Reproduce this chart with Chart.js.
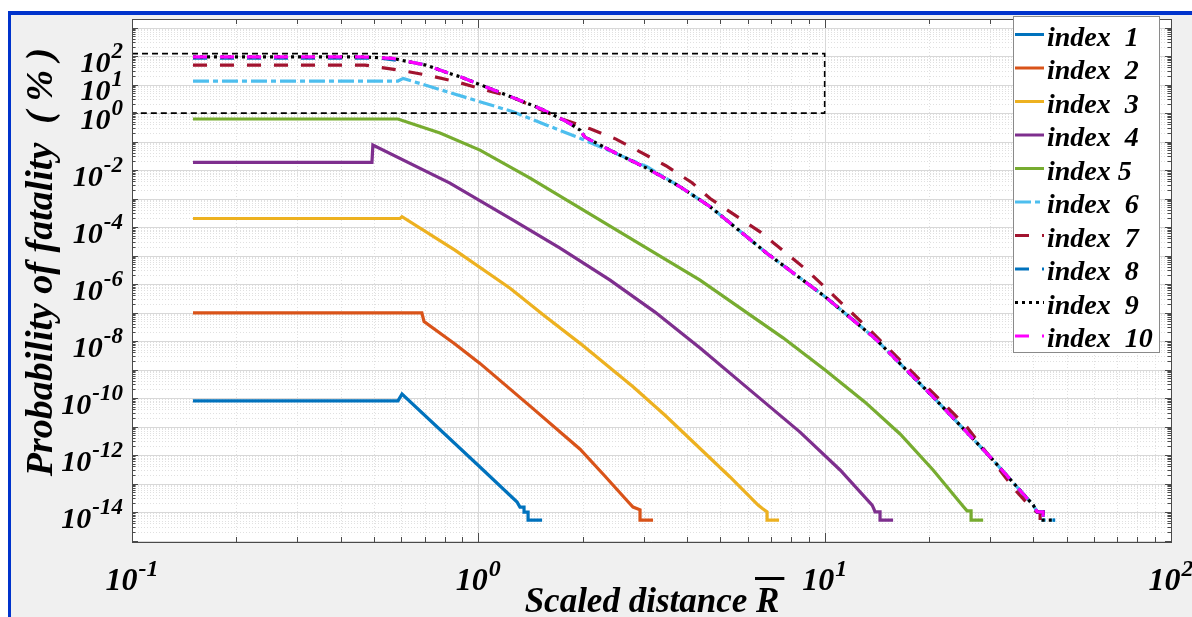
<!DOCTYPE html>
<html>
<head>
<meta charset="utf-8">
<script src="https://cdn.jsdelivr.net/npm/chart.js@4.4.1/dist/chart.umd.min.js"></script>
<style>
  html, body { margin: 0; padding: 0; background: #fff; overflow: hidden; }
  #frame {
    position: absolute; left: 8px; top: 11px; width: 1200px; height: 620px;
    background: #f0f0f0; border-left: 3px solid #0033cc; border-top: 4px solid #0033cc;
  }
  #chartCanvas { position: absolute; left: 0; top: 0; }
</style>
</head>
<body>
<div id="frame"></div>
<canvas id="chartCanvas" width="1192" height="617"></canvas>
<script>
// scaled distance (x) and probability of fatality in % (y)
const dist1 = [0.15, 0.586, 0.602, 1.011, 1.294, 1.319, 1.355, 1.355, 1.392, 1.392, 1.528];
const prob1 = [8.0e-11, 8.0e-11, 1.38e-10, 3.8e-13, 2.24e-14, 1.5e-14, 1.5e-14, 1.0e-14, 1.0e-14, 5.2e-15, 5.2e-15];

const dist2 = [0.15, 0.687, 0.697, 0.856, 1.011, 1.411, 1.967, 2.322, 2.706, 2.797, 2.93, 2.93, 3.195];
const prob2 = [9.8e-8, 9.8e-8, 4.8e-8, 7.9e-9, 1.65e-9, 5.2e-11, 1.6e-12, 1.8e-13, 2.3e-14, 1.5e-14, 1.2e-14, 5.2e-15, 5.2e-15];

const dist3 = [0.15, 0.594, 0.602, 0.856, 1.235, 1.558, 1.967, 2.797, 3.46, 4.367, 5.33, 6.423, 6.596, 6.818, 6.818, 7.385];
const prob3 = [2.0e-4, 2.0e-4, 2.3e-4, 1.56e-5, 7.1e-7, 7.5e-8, 8.3e-9, 2.5e-10, 2.5e-11, 1.7e-12, 1.7e-13, 1.76e-14, 1.35e-14, 1.02e-14, 5.2e-15, 5.2e-15];

const dist4 = [0.15, 0.493, 0.496, 0.828, 1.26, 1.722, 2.401, 3.237, 4.367, 6.09, 8.49, 11.08, 13.71, 13.85, 13.98, 14.45, 14.45, 15.76];
const prob4 = [0.0186, 0.0186, 0.0754, 3.5e-3, 1.76e-4, 1.83e-5, 1.38e-6, 1.04e-7, 5.7e-9, 1.9e-10, 6.4e-12, 3.0e-13, 1.76e-14, 1.35e-14, 1.02e-14, 1.02e-14, 5.2e-15, 5.2e-15];

const dist5 = [0.15, 0.586, 0.775, 1.011, 1.411, 1.967, 2.93, 4.367, 7.584, 10.03, 13.08, 16.51, 20.56, 25.10, 25.77, 26.47, 26.47, 28.68];
const prob5 = [0.62, 0.62, 0.199, 0.0503, 5.2e-3, 4.6e-4, 2.5e-5, 1.38e-6, 1.3e-8, 9.6e-10, 7.2e-11, 5.5e-12, 3.0e-13, 1.6e-14, 1.1e-14, 1.1e-14, 5.2e-15, 5.2e-15];

const dist6 = [0.15, 0.586, 0.607, 0.812, 1.26, 1.967, 3.07, 3.824, 4.669, 6.818, 10.03, 13.98, 20.56, 30.04, 39.99, 41.06, 42.73, 42.73, 46.29];
const prob6 = [13.3, 13.3, 16.5, 5.6, 1.11, 0.13, 0.0131, 2.6e-3, 5.2e-4, 1.19e-5, 3.6e-7, 1.24e-8, 1.1e-10, 8.7e-13, 1.76e-14, 1.02e-14, 1.02e-14, 5.2e-15, 5.2e-15];

const dist7 = [0.15, 0.471, 0.590, 0.711, 0.857, 1.025, 1.243, 1.745, 2.102, 2.498, 2.95, 3.48, 4.14, 4.67, 6.51, 8.88, 11.58, 13.52, 17.27, 25.72, 35.5, 40.0, 41.06, 41.9, 41.9, 43.3];
const prob7 = [48.3, 48.3, 32.3, 21.5, 12.9, 6.95, 3.73, 0.616, 0.281, 0.122, 0.0418, 0.0142, 3.6e-3, 1.0e-3, 6.8e-5, 3.1e-6, 1.44e-7, 2.4e-8, 1.25e-9, 9.8e-12, 5.9e-14, 1.2e-14, 1.0e-14, 1.0e-14, 5.2e-15, 5.2e-15];

const dist8 = [0.15, 0.52, 0.627, 0.706, 0.812, 0.891, 0.991, 1.117, 1.276, 1.507, 1.804, 1.967, 2.03, 2.449, 3.07, 3.824, 4.669, 6.818, 10.03, 13.98, 20.56, 30.04, 39.99, 41.06, 42.73, 42.73, 46.29];
const prob8 = [85, 85, 64, 48.3, 26.4, 18.3, 11.0, 6.2, 3.28, 1.46, 0.495, 0.253, 0.144, 0.0439, 0.0115, 2.6e-3, 5.2e-4, 1.19e-5, 3.6e-7, 1.24e-8, 1.1e-10, 8.7e-13, 1.76e-14, 1.02e-14, 1.02e-14, 5.2e-15, 5.2e-15];

const dist9 = [0.15, 0.455, 0.567, 0.627, 0.706, 0.812, 0.891, 0.991, 1.117, 1.276, 1.507, 1.804, 1.967, 2.03, 2.449, 3.07, 3.824, 4.669, 6.818, 10.03, 13.98, 20.56, 30.04, 39.99, 41.06, 42.73, 42.73, 46.29];
const prob9 = [94.5, 94.5, 83, 64, 48.3, 26.4, 18.3, 11.0, 6.2, 3.28, 1.46, 0.495, 0.253, 0.144, 0.0439, 0.0115, 2.6e-3, 5.2e-4, 1.19e-5, 3.6e-7, 1.24e-8, 1.1e-10, 8.7e-13, 1.76e-14, 1.02e-14, 1.02e-14, 5.2e-15, 5.2e-15];

const dist10 = [0.15, 0.455, 0.567, 0.627, 0.706, 0.812, 0.891, 0.991, 1.117, 1.276, 1.507, 1.804, 1.967, 2.03, 2.449, 3.07, 3.824, 4.669, 6.818, 10.03, 13.98, 20.56, 30.04, 39.99, 41.06, 42.73, 42.73, 43.3];
const prob10 = [94.5, 94.5, 83, 64, 48.3, 26.4, 18.3, 11.0, 6.2, 3.28, 1.46, 0.495, 0.253, 0.144, 0.0439, 0.0115, 2.6e-3, 5.2e-4, 1.19e-5, 3.6e-7, 1.24e-8, 1.1e-10, 8.7e-13, 1.76e-14, 1.02e-14, 1.02e-14, 5.2e-15, 5.2e-15];

// dashed zoom box
const boxDist = [0.1, 10, 10, 0.1];
const boxProb = [122, 122, 1, 1];

const seriesNames = ["index  1", "index  2", "index  3", "index  4", "index 5",
  "index  6", "index  7", "index  8", "index  9", "index  10"];
const xTickExps = ["-1", "0", "1", "2"];
const yTickExps = ["2", "1", "0", "-2", "-4", "-6", "-8", "-10", "-12", "-14"];

const allDist = [dist1, dist2, dist3, dist4, dist5, dist6, dist7, dist8, dist9, dist10];
const allProb = [prob1, prob2, prob3, prob4, prob5, prob6, prob7, prob8, prob9, prob10];

const colors = ["#0072BD", "#D95319", "#EDB120", "#7E2F8E", "#77AC30",
  "#4DBEEE", "#A2142F", "#0072BD", "#000000", "#FF00FF"];
const dashes = [[], [], [], [], [], [16, 4, 5, 4], [14, 13], [14, 13], [3, 4], [14, 13]];

const pts = (xs, ys) => xs.map((x, i) => ({ x, y: ys[i] }));

const datasets = allDist.map((d, i) => ({
  label: seriesNames[i],
  data: pts(d, allProb[i]),
  borderColor: colors[i],
  borderDash: dashes[i],
  borderWidth: 3.2,
  order: 10 - i,
}));
datasets.push({
  label: "box",
  data: pts(boxDist, boxProb),
  borderColor: "#000",
  borderDash: [6, 4],
  borderWidth: 1.6,
  order: 0,
});

const serif = '"Liberation Serif", "Times New Roman", serif';

function logValues(min, max) {
  const out = [];
  for (let k = Math.floor(Math.log10(min)); k <= Math.ceil(Math.log10(max)); k++) {
    for (let m = 1; m <= 9; m++) {
      const v = m * Math.pow(10, k);
      if (v >= min * 0.999 && v <= max * 1.001) out.push({ v, major: m === 1 });
    }
  }
  return out;
}

function powerLabel(ctx, exp, x, yBase, yExp, fBase, fExp, align) {
  ctx.font = fBase;
  const wb = ctx.measureText("10").width;
  ctx.font = fExp;
  const we = ctx.measureText(exp).width;
  const left = align === "right" ? x - wb - we - 1 : x - (wb + we + 1) / 2;
  ctx.textAlign = "left";
  ctx.textBaseline = "alphabetic";
  ctx.font = fBase;
  ctx.fillText("10", left, yBase);
  ctx.font = fExp;
  ctx.fillText(exp, left + wb + 1, yExp);
}

const matlabAxes = {
  id: "matlabAxes",
  beforeDatasetsDraw(chart) {
    const { ctx, chartArea: a, scales } = chart;
    ctx.save();
    ctx.fillStyle = "#fff";
    ctx.fillRect(a.left, a.top, a.right - a.left, a.bottom - a.top);
    ctx.lineWidth = 1;
    const xv = logValues(scales.x.min, scales.x.max);
    const yv = logValues(scales.y.min, scales.y.max);
    // minor grid first, dotted
    ctx.strokeStyle = "#e0e0e0";
    ctx.setLineDash([1, 2]);
    ctx.beginPath();
    xv.filter((t) => !t.major).forEach((t) => {
      const p = Math.round(scales.x.getPixelForValue(t.v)) + 0.5;
      ctx.moveTo(p, a.top); ctx.lineTo(p, a.bottom);
    });
    yv.filter((t) => !t.major).forEach((t) => {
      const p = Math.round(scales.y.getPixelForValue(t.v)) + 0.5;
      ctx.moveTo(a.left, p); ctx.lineTo(a.right, p);
    });
    ctx.stroke();
    ctx.setLineDash([]);
    ctx.strokeStyle = "#d8d8d8";
    ctx.beginPath();
    xv.filter((t) => t.major).forEach((t) => {
      const p = Math.round(scales.x.getPixelForValue(t.v)) + 0.5;
      ctx.moveTo(p, a.top); ctx.lineTo(p, a.bottom);
    });
    yv.filter((t) => t.major).forEach((t) => {
      const p = Math.round(scales.y.getPixelForValue(t.v)) + 0.5;
      ctx.moveTo(a.left, p); ctx.lineTo(a.right, p);
    });
    ctx.stroke();
    ctx.restore();
  },
  afterDatasetsDraw(chart) {
    const { ctx, chartArea: a, scales } = chart;
    ctx.save();
    // box and inward ticks
    ctx.strokeStyle = "#4a4a4a";
    ctx.lineWidth = 1;
    ctx.beginPath();
    logValues(scales.x.min, scales.x.max).forEach((t) => {
      const p = Math.round(scales.x.getPixelForValue(t.v)) + 0.5;
      const len = t.major ? 9 : 5;
      ctx.moveTo(p, a.bottom); ctx.lineTo(p, a.bottom - len);
      ctx.moveTo(p, a.top); ctx.lineTo(p, a.top + len);
    });
    logValues(scales.y.min, scales.y.max).forEach((t) => {
      const p = Math.round(scales.y.getPixelForValue(t.v)) + 0.5;
      const len = t.major ? 6 : 3.5;
      ctx.moveTo(a.left, p); ctx.lineTo(a.left + len, p);
      ctx.moveTo(a.right, p); ctx.lineTo(a.right - len, p);
    });
    ctx.stroke();
    ctx.strokeRect(Math.round(a.left) + 0.5, Math.round(a.top) + 0.5,
      Math.round(a.right - a.left), Math.round(a.bottom - a.top));

    // tick labels
    ctx.fillStyle = "#000";
    xTickExps.forEach((e) => {
      const p = scales.x.getPixelForValue(Math.pow(10, Number(e)));
      powerLabel(ctx, e, p, a.bottom + 48, a.bottom + 34,
        "bold italic 32px " + serif, "bold italic 24px " + serif, "center");
    });
    yTickExps.forEach((e) => {
      const p = scales.y.getPixelForValue(Math.pow(10, Number(e)));
      powerLabel(ctx, e, a.left - 9, p + 15.5, p + 1.5,
        "bold italic 30px " + serif, "bold italic 23px " + serif, "right");
    });

    // axis titles
    ctx.font = "bold italic 35px " + serif;
    const xTitle = "Scaled distance ";
    const wPre = ctx.measureText(xTitle).width;
    const wR = ctx.measureText("R").width;
    const x0 = 652 - (wPre + wR) / 2;
    ctx.textAlign = "left";
    ctx.textBaseline = "alphabetic";
    ctx.fillText(xTitle + "R", x0, 612);
    ctx.fillRect(x0 + wPre - 1, 577, wR + 6, 3);

    ctx.save();
    ctx.translate(42, 262);
    ctx.rotate(-Math.PI / 2);
    ctx.textAlign = "center";
    ctx.textBaseline = "middle";
    ctx.font = "bold italic 38px " + serif;
    ctx.fillText("Probability of fatality  ( % )", 0, 0);
    ctx.restore();

    // legend
    const lx = 1013, ly = 16, lw = 146, lh = 336;
    ctx.fillStyle = "#fff";
    ctx.fillRect(lx, ly, lw, lh);
    ctx.strokeStyle = "#8a8a8a";
    ctx.strokeRect(lx + 0.5, ly + 0.5, lw, lh);
    seriesNames.forEach((name, i) => {
      const cy = 34.5 + i * 33.5;
      ctx.strokeStyle = colors[i];
      ctx.lineWidth = 3;
      ctx.setLineDash(dashes[i]);
      ctx.beginPath();
      ctx.moveTo(1015, cy); ctx.lineTo(1044, cy);
      ctx.stroke();
      ctx.setLineDash([]);
      ctx.fillStyle = "#000";
      ctx.font = "bold italic 28px " + serif;
      ctx.textAlign = "left";
      ctx.textBaseline = "alphabetic";
      ctx.fillText(name, 1047, cy + 11);
    });
    ctx.restore();
  },
};

new Chart(document.getElementById("chartCanvas").getContext("2d"), {
  type: "line",
  data: { datasets },
  options: {
    responsive: false,
    animation: false,
    layout: { padding: { left: 132, top: 19, right: 21, bottom: 75 } },
    elements: { point: { radius: 0 }, line: { tension: 0 } },
    plugins: { legend: { display: false }, tooltip: { enabled: false } },
    scales: {
      x: { type: "logarithmic", min: 0.1, max: 100, display: false },
      y: { type: "logarithmic", min: 8.9e-16, max: 2000, display: false },
    },
  },
  plugins: [matlabAxes],
});
</script>
</body>
</html>
